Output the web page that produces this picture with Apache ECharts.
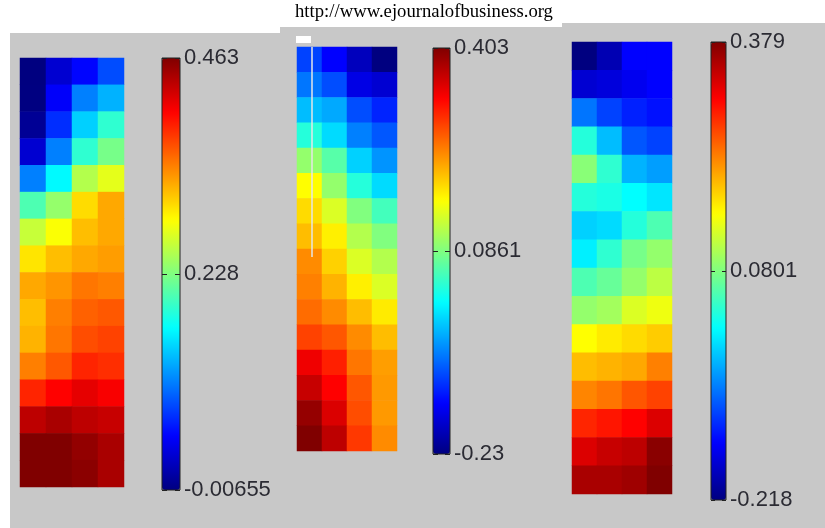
<!DOCTYPE html>
<html>
<head>
<meta charset="utf-8">
<script src="https://cdn.jsdelivr.net/npm/echarts@6/dist/echarts.min.js"></script>
<style>
  html, body { margin: 0; padding: 0; background: #fff; }
  #main { width: 825px; height: 528px; }
</style>
</head>
<body>
<div id="main"></div>
<script>
var myChart = echarts.init(document.getElementById('main'));

// 4 列 x 16 行，每行从上到下
var colsCat = ['1', '2', '3', '4'];
var rowsCat = ['1', '2', '3', '4', '5', '6', '7', '8', '9', '10', '11', '12', '13', '14', '15', '16'];

var panelA = [
  [-0.0066, 0.031, 0.054, 0.087],
  [-0.006, 0.050, 0.111, 0.134],
  [0.003, 0.073, 0.148, 0.191],
  [0.031, 0.111, 0.191, 0.224],
  [0.111, 0.167, 0.252, 0.275],
  [0.205, 0.238, 0.303, 0.327],
  [0.261, 0.285, 0.317, 0.327],
  [0.299, 0.317, 0.327, 0.332],
  [0.327, 0.336, 0.350, 0.346],
  [0.317, 0.346, 0.360, 0.364],
  [0.322, 0.350, 0.369, 0.374],
  [0.346, 0.364, 0.388, 0.383],
  [0.388, 0.404, 0.416, 0.407],
  [0.435, 0.444, 0.435, 0.430],
  [0.463, 0.463, 0.454, 0.444],
  [0.463, 0.463, 0.458, 0.444]
];
var panelB = [
  [-0.110, -0.151, -0.192, -0.230],
  [-0.078, -0.103, -0.167, -0.179],
  [-0.034, -0.046, -0.103, -0.129],
  [0.030, -0.015, -0.072, -0.097],
  [0.099, 0.061, -0.021, -0.059],
  [0.166, 0.099, 0.030, -0.015],
  [0.188, 0.143, 0.087, 0.049],
  [0.207, 0.175, 0.118, 0.087],
  [0.238, 0.194, 0.143, 0.118],
  [0.245, 0.213, 0.175, 0.143],
  [0.257, 0.238, 0.207, 0.178],
  [0.283, 0.270, 0.238, 0.207],
  [0.333, 0.305, 0.251, 0.226],
  [0.359, 0.324, 0.270, 0.229],
  [0.390, 0.346, 0.276, 0.229],
  [0.403, 0.365, 0.289, 0.238]
];
var panelC = [
  [-0.218, -0.188, -0.143, -0.143],
  [-0.170, -0.164, -0.152, -0.143],
  [-0.075, -0.105, -0.125, -0.134],
  [0.027, -0.033, -0.093, -0.105],
  [0.086, 0.033, -0.039, -0.051],
  [0.027, 0.021, 0.006, -0.009],
  [-0.021, -0.015, 0.027, 0.051],
  [-0.003, 0.033, 0.075, 0.092],
  [0.051, 0.066, 0.092, 0.116],
  [0.092, 0.101, 0.134, 0.146],
  [0.155, 0.167, 0.176, 0.185],
  [0.194, 0.200, 0.206, 0.230],
  [0.227, 0.236, 0.254, 0.266],
  [0.283, 0.292, 0.304, 0.325],
  [0.325, 0.337, 0.343, 0.373],
  [0.355, 0.355, 0.361, 0.379]
];

// 色标范围与刻度文字
var rangeA = [-0.00655, 0.463];
var rangeB = [-0.23, 0.403];
var rangeC = [-0.218, 0.379];
var ticksA = ['-0.00655', '0.228', '0.463'];
var ticksB = ['-0.23', '0.0861', '0.403'];
var ticksC = ['-0.218', '0.0801', '0.379'];

var jet = ['#000080', '#0000ff', '#0080ff', '#00ffff', '#80ff80', '#ffff00', '#ff8000', '#ff0000', '#800000'];

function toCells(m) {
  var out = [];
  for (var r = 0; r < m.length; r++) {
    for (var c = 0; c < m[r].length; c++) {
      out.push([c, r, m[r][c]]);
    }
  }
  return out;
}

// 位置：热图 + 色标
var maps = [
  { grid: { left: 20, top: 58, width: 104, height: 429 }, bar: { left: 162, top: 58, width: 18, height: 432 } },
  { grid: { left: 297, top: 47, width: 100, height: 404 }, bar: { left: 433, top: 48, width: 17, height: 406 } },
  { grid: { left: 572, top: 42, width: 100, height: 452 }, bar: { left: 711, top: 42, width: 15, height: 458 } }
];
var panels = [panelA, panelB, panelC];
var ranges = [rangeA, rangeB, rangeC];
var ticks = [ticksA, ticksB, ticksC];

var grids = [], xAxes = [], yAxes = [], series = [], visualMaps = [];
maps.forEach(function (m, i) {
  // 热图网格
  grids.push({ left: m.grid.left, top: m.grid.top, width: m.grid.width, height: m.grid.height });
  xAxes.push({ type: 'category', data: colsCat, gridIndex: i * 2, show: false });
  yAxes.push({ type: 'category', data: rowsCat, gridIndex: i * 2, inverse: true, show: false });
  series.push({
    type: 'heatmap',
    xAxisIndex: i * 2,
    yAxisIndex: i * 2,
    data: toCells(panels[i]),
    itemStyle: { borderWidth: 0 },
    emphasis: { disabled: true }
  });
  // 色标网格（边框、刻度、文字）
  grids.push({
    left: m.bar.left, top: m.bar.top, width: m.bar.width, height: m.bar.height,
    show: true, borderColor: '#222', borderWidth: 1, backgroundColor: 'transparent', z: 10
  });
  xAxes.push({ type: 'value', gridIndex: i * 2 + 1, show: false });
  var tk = ticks[i];
  var d = m.bar.width >= 17 ? 5 : 4;
  yAxes.push({
    type: 'value', gridIndex: i * 2 + 1, position: 'right', min: 0, max: 2, interval: 1, z: 10,
    axisLine: { show: false },
    axisTick: { show: false },
    splitLine: { show: true, lineStyle: { color: '#222', width: 1, type: [d, m.bar.width - 2 * d] } },
    axisLabel: {
      margin: 4, color: '#2b2b33', fontSize: 22, fontFamily: 'Liberation Sans, Arial, sans-serif',
      formatter: function (v) { return tk[Math.round(v)]; }
    }
  });
  visualMaps.push({
    type: 'continuous',
    seriesIndex: i,
    min: ranges[i][0],
    max: ranges[i][1],
    calculable: false,
    hoverLink: false,
    orient: 'vertical',
    left: m.bar.left,
    top: m.bar.top,
    padding: 0,
    z: 2,
    itemWidth: m.bar.width,
    itemHeight: m.bar.height,
    inRange: { color: jet }
  });
});

var option = {
  animation: false,
  backgroundColor: '#ffffff',
  title: {
    text: 'http://www.ejournalofbusiness.org',
    left: 295,
    top: 3,
    padding: 0,
    textStyle: { color: '#000', fontSize: 18.7, fontWeight: 'normal', fontFamily: 'Liberation Serif, Times New Roman, serif' }
  },
  graphic: [
    { type: 'rect', z: -10, shape: { x: 10, y: 33, width: 270, height: 495 }, style: { fill: '#c8c8c8' } },
    { type: 'rect', z: -10, shape: { x: 280, y: 27, width: 282, height: 501 }, style: { fill: '#c8c8c8' } },
    { type: 'rect', z: -10, shape: { x: 562, y: 23, width: 263, height: 505 }, style: { fill: '#c8c8c8' } },
    // 图二左上角的白色残留
    { type: 'rect', z: 100, shape: { x: 296, y: 36, width: 15, height: 7 }, style: { fill: '#ffffff' } },
    { type: 'line', z: 100, shape: { x1: 312, y1: 47, x2: 312, y2: 257 }, style: { stroke: '#e6e6e6', lineWidth: 1.5 } }
  ],
  grid: grids,
  xAxis: xAxes,
  yAxis: yAxes,
  visualMap: visualMaps,
  series: series
};

myChart.setOption(option);
</script>
</body>
</html>
